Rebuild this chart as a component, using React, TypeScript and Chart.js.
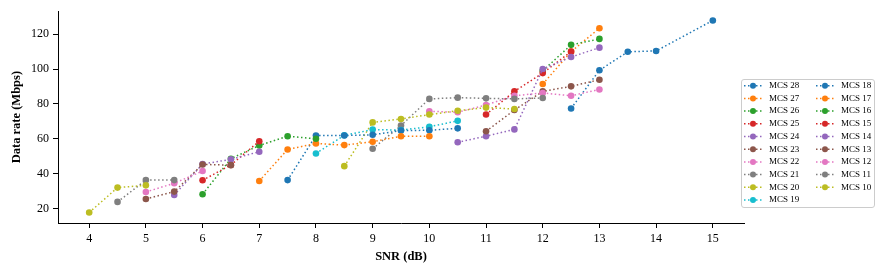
import React, { useEffect, useRef } from "react";
import { Chart, registerables } from "chart.js";

Chart.register(...registerables);

// ---- Data ----
const mcsOrder = [28, 27, 26, 25, 24, 23, 22, 21, 20, 19, 18, 17, 16, 15, 14, 13, 12, 11, 10];

const mcs28Snr = [12.5, 13, 13.5, 14, 15];
const mcs28Rate = [77.4, 99.3, 109.9, 110.4, 127.9];
const mcs27Snr = [12, 12.5, 13];
const mcs27Rate = [91.4, 110, 123.4];
const mcs26Snr = [12, 12.5, 13];
const mcs26Rate = [99, 113.9, 117.3];
const mcs25Snr = [11, 11.5, 12, 12.5];
const mcs25Rate = [73.9, 87.2, 97.7, 110];
const mcs24Snr = [10.5, 11, 11.5, 12, 12.5, 13];
const mcs24Rate = [58, 61.5, 65.4, 100, 106.9, 112.3];
const mcs23Snr = [11, 11.5, 12, 12.5, 13];
const mcs23Rate = [64.3, 76.5, 87.2, 90.1, 93.9];
const mcs22Snr = [10, 10.5, 11, 11.5, 12, 12.5, 13];
const mcs22Rate = [75.8, 75.2, 79.4, 84.7, 86.3, 84.7, 88.3];
const mcs21Snr = [9, 9.5, 10, 10.5, 11, 11.5, 12];
const mcs21Rate = [54.3, 67.6, 82.9, 83.6, 83.2, 82.9, 83.4];
const mcs20Snr = [8.5, 9, 9.5, 10, 10.5, 11, 11.5];
const mcs20Rate = [44.3, 69.4, 71.4, 73.9, 76.1, 77.9, 77.1];
const mcs19Snr = [8, 8.5, 9, 9.5, 10, 10.5];
const mcs19Rate = [51.6, 62, 65.3, 65, 66.9, 70.3];
const mcs18Snr = [7.5, 8, 8.5, 9, 9.5, 10, 10.5];
const mcs18Rate = [36.3, 61.9, 61.9, 62.3, 64.7, 64.9, 66];
const mcs17Snr = [7, 7.5, 8, 8.5, 9, 9.5, 10];
const mcs17Rate = [35.8, 53.9, 57.3, 56.4, 58.3, 61.5, 61.5];
const mcs16Snr = [6, 6.5, 7, 7.5, 8];
const mcs16Rate = [28.2, 48.6, 56.2, 61.5, 60];
const mcs15Snr = [6, 6.5, 7];
const mcs15Rate = [36.2, 45, 58.6];
const mcs14Snr = [5.5, 6, 6.5, 7];
const mcs14Rate = [27.8, 45.5, 48.2, 52.6];
const mcs13Snr = [5, 5.5, 6, 6.5];
const mcs13Rate = [25.5, 29.7, 45.3, 44.9];
const mcs12Snr = [5, 5.5, 6];
const mcs12Rate = [29.5, 34.5, 41.5];
const mcs11Snr = [4.5, 5, 5.5];
const mcs11Rate = [23.8, 36.3, 36.3];
const mcs10Snr = [4, 4.5, 5];
const mcs10Rate = [17.7, 32, 33.3];

const xTicks = [4, 5, 6, 7, 8, 9, 10, 11, 12, 13, 14, 15];
const yTicks = [20, 40, 60, 80, 100, 120];

const palette = [
  "#1f77b4", "#ff7f0e", "#2ca02c", "#d62728", "#9467bd",
  "#8c564b", "#e377c2", "#7f7f7f", "#bcbd22", "#17becf",
];

const seriesTable: Record<number, [number[], number[]]> = {
  28: [mcs28Snr, mcs28Rate], 27: [mcs27Snr, mcs27Rate], 26: [mcs26Snr, mcs26Rate],
  25: [mcs25Snr, mcs25Rate], 24: [mcs24Snr, mcs24Rate], 23: [mcs23Snr, mcs23Rate],
  22: [mcs22Snr, mcs22Rate], 21: [mcs21Snr, mcs21Rate], 20: [mcs20Snr, mcs20Rate],
  19: [mcs19Snr, mcs19Rate], 18: [mcs18Snr, mcs18Rate], 17: [mcs17Snr, mcs17Rate],
  16: [mcs16Snr, mcs16Rate], 15: [mcs15Snr, mcs15Rate], 14: [mcs14Snr, mcs14Rate],
  13: [mcs13Snr, mcs13Rate], 12: [mcs12Snr, mcs12Rate], 11: [mcs11Snr, mcs11Rate],
  10: [mcs10Snr, mcs10Rate],
};

const colorFor = (mcs: number) => palette[(28 - mcs) % 10];
const FONT = '"Liberation Serif", "Times New Roman", serif';
const DASH = [1.5, 2.5];

const legendPlugin = {
  id: "mcsLegend",
  afterDraw(chart: any) {
    const ctx = chart.ctx as CanvasRenderingContext2D;
    ctx.save();
    const bx = 741.5, by = 79.5, bw = 133, bh = 128, r = 2.5;
    ctx.beginPath();
    ctx.moveTo(bx + r, by);
    ctx.lineTo(bx + bw - r, by);
    ctx.quadraticCurveTo(bx + bw, by, bx + bw, by + r);
    ctx.lineTo(bx + bw, by + bh - r);
    ctx.quadraticCurveTo(bx + bw, by + bh, bx + bw - r, by + bh);
    ctx.lineTo(bx + r, by + bh);
    ctx.quadraticCurveTo(bx, by + bh, bx, by + bh - r);
    ctx.lineTo(bx, by + r);
    ctx.quadraticCurveTo(bx, by, bx + r, by);
    ctx.closePath();
    ctx.fillStyle = "rgba(255,255,255,0.8)";
    ctx.fill();
    ctx.strokeStyle = "#cccccc";
    ctx.lineWidth = 1;
    ctx.stroke();

    mcsOrder.forEach((m, i) => {
      const col = i < 10 ? 0 : 1;
      const row = i < 10 ? i : i - 10;
      const x0 = col === 0 ? 744 : 816;
      const y = 85.7 + row * 12.7;
      const c = colorFor(m);
      ctx.setLineDash(DASH);
      ctx.lineWidth = 1.5;
      ctx.strokeStyle = c;
      ctx.beginPath();
      ctx.moveTo(x0, y);
      ctx.lineTo(x0 + 18, y);
      ctx.stroke();
      ctx.setLineDash([]);
      ctx.fillStyle = c;
      ctx.beginPath();
      ctx.arc(x0 + 9, y, 3, 0, Math.PI * 2);
      ctx.fill();
      ctx.fillStyle = "#000";
      ctx.font = `9px ${FONT}`;
      ctx.textBaseline = "middle";
      ctx.textAlign = "left";
      ctx.fillText(`MCS ${m}`, x0 + 25, y);
    });
    ctx.restore();
  },
};

export default function App() {
  const canvasRef = useRef<HTMLCanvasElement | null>(null);

  useEffect(() => {
    document.body.style.margin = "0";
    const canvas = canvasRef.current;
    if (!canvas) return;

    // dataset 0 is drawn on top in Chart.js, so list MCS 10 first
    const drawOrder = [...mcsOrder].reverse();
    const datasets = drawOrder.map((m) => {
      const [xs, ys] = seriesTable[m];
      const c = colorFor(m);
      return {
        label: `MCS ${m}`,
        data: xs.map((x, k) => ({ x, y: ys[k] })),
        borderColor: c,
        backgroundColor: c,
        borderWidth: 1.5,
        borderDash: DASH,
        pointRadius: 3.3,
        pointBorderWidth: 0,
        pointBackgroundColor: c,
        showLine: true,
        fill: false,
        tension: 0,
      };
    });

    const chart = new Chart(canvas, {
      type: "scatter",
      data: { datasets },
      options: {
        animation: false,
        responsive: false,
        devicePixelRatio: 1,
        layout: { padding: { left: 0, right: 141, top: 11, bottom: 0 } },
        plugins: {
          legend: { display: false },
          tooltip: { enabled: false },
        },
        scales: {
          x: {
            type: "linear",
            min: 3.45,
            max: 15.55,
            afterBuildTicks: (scale: any) => {
              scale.ticks = xTicks.map((v) => ({ value: v }));
            },
            afterFit: (scale: any) => {
              scale.height = 52;
            },
            grid: {
              display: true,
              drawOnChartArea: false,
              drawTicks: true,
              tickLength: 5,
              tickColor: "#000",
              tickWidth: 1,
            },
            border: { display: true, color: "#000", width: 1 },
            ticks: {
              color: "#000",
              font: { family: FONT, size: 12 },
              padding: 4,
              maxRotation: 0,
              autoSkip: false,
            },
            title: {
              display: true,
              text: "SNR (dB)",
              color: "#000",
              font: { family: FONT, size: 12.5, weight: "bold" },
              padding: { top: 0, bottom: 11 },
            },
          },
          y: {
            type: "linear",
            min: 11.7,
            max: 133.2,
            afterBuildTicks: (scale: any) => {
              scale.ticks = yTicks.map((v) => ({ value: v }));
            },
            afterFit: (scale: any) => {
              scale.width = 58;
            },
            grid: {
              display: true,
              drawOnChartArea: false,
              drawTicks: true,
              tickLength: 5,
              tickColor: "#000",
              tickWidth: 1,
            },
            border: { display: true, color: "#000", width: 1 },
            ticks: {
              color: "#000",
              font: { family: FONT, size: 12 },
              padding: 4,
              autoSkip: false,
            },
            title: {
              display: true,
              text: "Data rate (Mbps)",
              color: "#000",
              font: { family: FONT, size: 12.5, weight: "bold" },
              padding: { top: 9.5, bottom: 0 },
            },
          },
        },
      },
      plugins: [legendPlugin],
    } as any);

    return () => chart.destroy();
  }, []);

  return (
    <canvas
      ref={canvasRef}
      width={885}
      height={275}
      style={{ display: "block", width: 885, height: 275 }}
    />
  );
}
